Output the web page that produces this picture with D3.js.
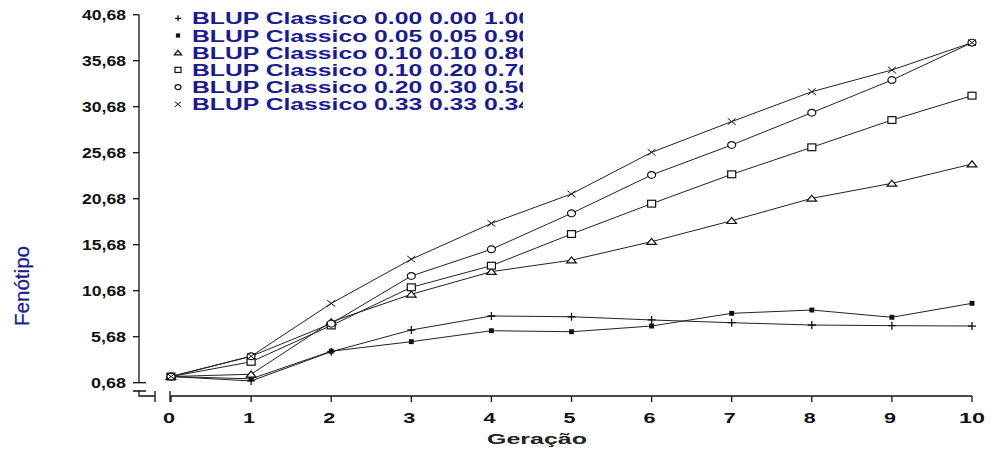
<!DOCTYPE html>
<html>
<head>
<meta charset="utf-8">
<script src="https://cdn.jsdelivr.net/npm/d3@7"></script>
<style>
  html, body { margin: 0; padding: 0; background: #fff; }
  svg { display: block; }
</style>
</head>
<body>
<svg id="chart" width="995" height="457"></svg>
<script>
// Generations on the x axis
const generations = [0, 1, 2, 3, 4, 5, 6, 7, 8, 9, 10];

// Mean phenotype per generation for each weighting scheme
const blup000 = [1.35, 0.87, 4.05, 6.41, 7.93, 7.85, 7.50, 7.20, 6.95, 6.88, 6.84];
const blup005 = [1.35, 1.10, 4.10, 5.14, 6.33, 6.22, 6.84, 8.22, 8.58, 7.79, 9.31];
const blup010 = [1.35, 1.60, 7.30, 10.29, 12.75, 14.00, 16.01, 18.29, 20.72, 22.35, 24.45];
const blup020 = [1.35, 2.95, 6.90, 11.05, 13.40, 16.84, 20.14, 23.33, 26.27, 29.23, 31.88];
const blup030 = [1.35, 3.55, 7.10, 12.28, 15.18, 19.09, 23.26, 26.52, 30.03, 33.58, 37.64];
const blup033 = [1.35, 3.55, 9.30, 14.10, 18.00, 21.20, 25.72, 29.06, 32.31, 34.67, 37.64];

const seriesNames = [
  "BLUP Classico 0.00 0.00 1.00",
  "BLUP Classico 0.05 0.05 0.90",
  "BLUP Classico 0.10 0.10 0.80",
  "BLUP Classico 0.10 0.20 0.70",
  "BLUP Classico 0.20 0.30 0.50",
  "BLUP Classico 0.33 0.33 0.34"
];
const seriesMarkers = ["plus", "filledSquare", "triangle", "square", "circle", "cross"];

const yTicks = [0.68, 5.68, 10.68, 15.68, 20.68, 25.68, 30.68, 35.68, 40.68];
const yTickLabels = ["0,68", "5,68", "10,68", "15,68", "20,68", "25,68", "30,68", "35,68", "40,68"];
const xTickLabels = ["0", "1", "2", "3", "4", "5", "6", "7", "8", "9", "10"];

const series = [blup000, blup005, blup010, blup020, blup030, blup033].map((vals, i) => ({
  name: seriesNames[i],
  marker: seriesMarkers[i],
  values: vals.map((v, j) => ({ g: generations[j], v }))
}));

const svg = d3.select("#chart");
const ink = "#111";
const navy = "#1b1b8e";
const font = "'Liberation Sans', Arial, sans-serif";

const x = d3.scaleLinear().domain([0, 10]).range([171, 972]);
const y = d3.scaleLinear().domain([0.68, 40.68]).range([382.7, 14.7]);

const axisX = 139;     // y axis position
const baseY = 396;     // x axis position

// ---- y axis ----
const gy = svg.append("g");
gy.append("line")
  .attr("x1", axisX).attr("x2", axisX)
  .attr("y1", y(40.68)).attr("y2", y(0.68))
  .attr("stroke", ink).attr("stroke-width", 1.3);
gy.selectAll("line.tick").data(yTicks).enter().append("line")
  .attr("class", "tick")
  .attr("x1", axisX - 6).attr("x2", d => d === 0.68 ? axisX + 7 : axisX)
  .attr("y1", d => y(d)).attr("y2", d => y(d))
  .attr("stroke", ink).attr("stroke-width", 1.3);
gy.selectAll("text").data(yTicks).enter().append("text")
  .attr("x", 126).attr("y", d => y(d) + 5.5)
  .attr("text-anchor", "end")
  .attr("font-family", font).attr("font-weight", "bold").attr("font-size", 15.5)
  .attr("fill", ink)
  .attr("textLength", (d, i) => yTickLabels[i].length === 5 ? 44 : 35)
  .attr("lengthAdjust", "spacingAndGlyphs")
  .text((d, i) => yTickLabels[i]);

// ---- axis break marks ----
const brk = svg.append("g").attr("stroke", ink).attr("stroke-width", 1.3).attr("fill", "none");
brk.append("path").attr("d", `M${axisX - 6},391 H${axisX + 7} M${axisX},391 V${baseY} H155 M155,391 V402`);
brk.append("path").attr("d", `M${x(0) - 1},391 V402`);

// ---- x axis ----
const gx = svg.append("g");
gx.append("line")
  .attr("x1", x(0) - 1).attr("x2", x(10))
  .attr("y1", baseY).attr("y2", baseY)
  .attr("stroke", ink).attr("stroke-width", 1.3);
gx.selectAll("line.tick").data(generations).enter().append("line")
  .attr("class", "tick")
  .attr("x1", d => x(d)).attr("x2", d => x(d))
  .attr("y1", baseY).attr("y2", baseY + 6)
  .attr("stroke", ink).attr("stroke-width", 1.3);
gx.selectAll("text").data(generations).enter().append("text")
  .attr("x", d => x(d) - (d < 10 ? 2 : 0)).attr("y", 423)
  .attr("text-anchor", "middle")
  .attr("font-family", font).attr("font-weight", "bold").attr("font-size", 15.5)
  .attr("fill", ink)
  .attr("textLength", (d, i) => xTickLabels[i].length > 1 ? 26 : 12)
  .attr("lengthAdjust", "spacingAndGlyphs")
  .text((d, i) => xTickLabels[i]);

// ---- axis titles ----
svg.append("text")
  .attr("x", 537).attr("y", 444)
  .attr("text-anchor", "middle")
  .attr("font-family", font).attr("font-weight", "bold").attr("font-size", 15)
  .attr("fill", "#222")
  .attr("textLength", 100).attr("lengthAdjust", "spacingAndGlyphs")
  .text("Geração");
svg.append("text")
  .attr("transform", "translate(29,286) rotate(-90)")
  .attr("text-anchor", "middle")
  .attr("font-family", font).attr("font-size", 21)
  .attr("fill", navy)
  .attr("stroke", navy).attr("stroke-width", 0.3)
  .attr("textLength", 80).attr("lengthAdjust", "spacingAndGlyphs")
  .text("Fenótipo");

// ---- marker shapes ----
function drawMarker(sel, type, s) {
  const h = s / 2;
  switch (type) {
    case "plus":
      sel.append("path").attr("d", `M${-h},0 H${h} M0,${-h} V${h}`)
        .attr("stroke", ink).attr("stroke-width", 1.3).attr("fill", "none");
      break;
    case "cross":
      sel.append("path").attr("d", `M${-h},${-h * 0.8} L${h},${h * 0.8} M${-h},${h * 0.8} L${h},${-h * 0.8}`)
        .attr("stroke", ink).attr("stroke-width", 1).attr("fill", "none");
      break;
    case "filledSquare":
      sel.append("rect").attr("x", -h * 0.7).attr("y", -h * 0.7)
        .attr("width", s * 0.7).attr("height", s * 0.7).attr("fill", ink);
      break;
    case "square":
      sel.append("rect").attr("x", -h).attr("y", -h * 0.85)
        .attr("width", s).attr("height", s * 0.85)
        .attr("fill", "#fff").attr("stroke", ink).attr("stroke-width", 1.2);
      break;
    case "circle":
      sel.append("ellipse").attr("rx", h).attr("ry", h * 0.85)
        .attr("fill", "#fff").attr("stroke", ink).attr("stroke-width", 1.2);
      break;
    case "triangle":
      sel.append("path").attr("d", `M${-h * 1.2},${h * 0.7} L0,${-h * 0.8} L${h * 1.2},${h * 0.7} Z`)
        .attr("fill", "#fff").attr("stroke", ink).attr("stroke-width", 1.2);
      break;
  }
}

// ---- series lines and markers ----
const line = d3.line().x(d => x(d.g)).y(d => y(d.v));
const plot = svg.append("g");
series.forEach(s => {
  plot.append("path")
    .datum(s.values)
    .attr("d", line)
    .attr("fill", "none")
    .attr("stroke", "#222")
    .attr("stroke-width", 1);
});
series.forEach(s => {
  const size = s.marker === "filledSquare" ? 7 : 8;
  plot.selectAll(null).data(s.values).enter().append("g")
    .attr("transform", d => `translate(${x(d.g)},${y(d.v)})`)
    .each(function () { drawMarker(d3.select(this), s.marker, size); });
});

// ---- legend (text is cut off at the right edge) ----
svg.append("clipPath").attr("id", "legendClip")
  .append("rect").attr("x", 160).attr("y", 0).attr("width", 523 - 160).attr("height", 120);
const legend = svg.append("g").attr("clip-path", "url(#legendClip)");
const rows = legend.selectAll("g").data(series).enter().append("g")
  .attr("transform", (d, i) => `translate(0,${18.3 + i * 17.2})`);
rows.each(function (d) {
  const g = d3.select(this).append("g").attr("transform", "translate(178,0)");
  drawMarker(g, d.marker, 6);
});
rows.append("text")
  .attr("x", 192).attr("y", 6)
  .attr("font-family", font).attr("font-weight", "bold").attr("font-size", 16)
  .attr("fill", navy)
  .attr("textLength", 340).attr("lengthAdjust", "spacingAndGlyphs")
  .text(d => d.name);
</script>
</body>
</html>
